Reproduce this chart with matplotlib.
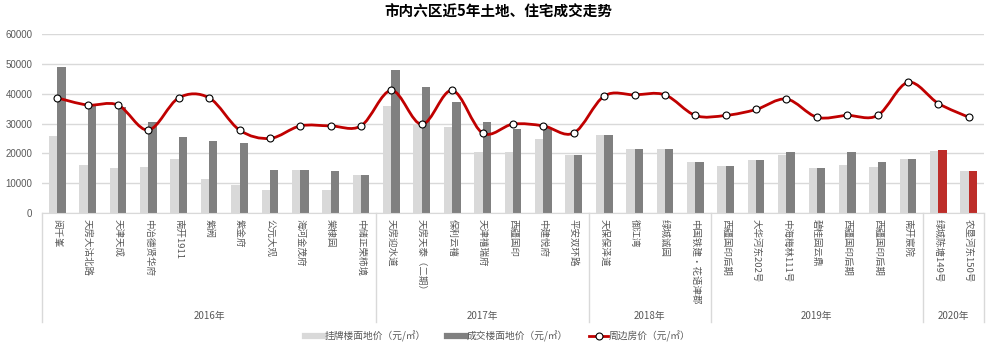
import matplotlib.pyplot as plt
import matplotlib.transforms as mtransforms
from matplotlib.path import Path
from matplotlib.patches import PathPatch
from matplotlib.lines import Line2D
import numpy as np

plt.rcParams['font.family'] = ['Noto Sans CJK SC', 'DejaVu Sans']

# 项目名称
projects = ['阅千峯', '天房大沽北路', '天津天成', '中冶德贤华府', '南开1911', '紫阙', '紫金府',
            '公元大观', '海河金茂府', '棠棣园', '中储正荣柿境',
            '天房迎水道', '天房天泰（二期）', '保利云禧', '天津禧瑞府', '西疆国印', '中建悦府', '平安双环路',
            '天保保泽道', '御江湾', '绿城诚园', '中国铁建·花语津郡',
            '西疆国印后期', '大华河东202号', '中海梅林111号', '碧桂园云鼎', '西疆国印后期', '西疆国印后期', '南开宸院',
            '绿城陈塘149号', '农垦河东150号']
# 年份分组
years = ['2016年', '2017年', '2018年', '2019年', '2020年']
year_counts = [11, 7, 4, 7, 2]
# 挂牌楼面地价
listed = [25800, 16100, 15100, 15400, 18000, 11300, 9300, 7700, 14300, 7600, 12900,
          35800, 30000, 28800, 20300, 20400, 24900, 19400,
          26000, 21500, 21400, 17100,
          15700, 17700, 19400, 15000, 16100, 15400, 18100,
          20700, 14000]
# 成交楼面地价
deal = [48900, 36200, 35500, 30600, 25400, 24100, 23500, 14300, 14300, 14100, 12900,
        47900, 42300, 37100, 30500, 28300, 28400, 19400,
        26000, 21500, 21400, 17100,
        15700, 17700, 20400, 15000, 20600, 17100, 18100,
        21000, 14000]
# 周边房价
around = [38600, 36200, 36200, 27800, 38600, 38600, 27800, 25000, 29200, 29200, 29200,
          41100, 29700, 41100, 26800, 29800, 29200, 26800,
          39200, 39600, 39600, 32700,
          32700, 34700, 38200, 32100, 32700, 32700, 43800,
          36700, 32100]

fig = plt.figure(figsize=(9.88, 3.46), dpi=100)
ax = fig.add_axes([42/988, 1-213/346, 942/988, 179/346])

n = len(projects)
x = np.arange(n)
w = 0.275
deal_colors = ['#808080'] * (n - year_counts[-1]) + ['#bd2d29'] * year_counts[-1]
ax.bar(x - w/2, listed, w, color='#d9d9d9', zorder=2)
ax.bar(x + w/2, deal, w, color=deal_colors, zorder=2)

# 平滑曲线 (Catmull-Rom -> 贝塞尔)
pts = list(zip(x, around))
verts = [pts[0]]
codes = [Path.MOVETO]
for i in range(n - 1):
    p0 = pts[i - 1] if i > 0 else pts[i]
    p1 = pts[i]
    p2 = pts[i + 1]
    p3 = pts[i + 2] if i + 2 < n else pts[i + 1]
    c1 = (p1[0] + (p2[0] - p0[0]) / 6, p1[1] + (p2[1] - p0[1]) / 6)
    c2 = (p2[0] - (p3[0] - p1[0]) / 6, p2[1] - (p3[1] - p1[1]) / 6)
    verts += [c1, c2, p2]
    codes += [Path.CURVE4] * 3
ax.add_patch(PathPatch(Path(verts, codes), fill=False, edgecolor='#c00000', lw=2, zorder=3))
ax.plot(x, around, 'o', color='white', markeredgecolor='black', markeredgewidth=0.8,
        markersize=5, zorder=4)

ax.set_xlim(-0.5, n - 0.5)
ax.set_ylim(0, 60000)
ax.set_yticks(range(0, 60001, 10000))
ax.set_xticks([])
ax.yaxis.grid(True, color='#d9d9d9', lw=1)
ax.set_axisbelow(True)
for s in ['top', 'right', 'left']:
    ax.spines[s].set_visible(False)
ax.spines['bottom'].set_color('#d9d9d9')
ax.tick_params(axis='y', length=0, pad=7, labelsize=7, labelcolor='#595959')
for lab in ax.get_yticklabels():
    lab.set_family(['Liberation Sans', 'DejaVu Sans'])

trans = mtransforms.blended_transform_factory(ax.transData, ax.transAxes)
for i, name in enumerate(projects):
    ax.text(i, -0.034, name, transform=trans, rotation=-90, ha='center', va='top',
            fontsize=6.8, color='#595959')

start = 0
bounds = [-0.5]
for yr, c in zip(years, year_counts):
    ax.text(start + (c - 1) / 2, -0.575, yr, transform=trans, ha='center', va='center',
            fontsize=7, color='#595959')
    start += c
    bounds.append(start - 0.5)
for b in bounds:
    ax.plot([b, b], [0, -0.61], transform=trans, color='#d9d9d9', lw=1, clip_on=False)

fig.text(0.504, 0.965, '市内六区近5年土地、住宅成交走势', ha='center', va='center',
         fontsize=10.5, fontweight='bold')

handles = [Line2D([], [], color='#d9d9d9', lw=4.5),
           Line2D([], [], color='#808080', lw=4.5),
           Line2D([], [], color='#c00000', lw=2, marker='o', markerfacecolor='white',
                  markeredgecolor='black', markersize=5, markeredgewidth=0.8)]
labels = ['挂牌楼面地价（元/㎡）', '成交楼面地价（元/㎡）', '周边房价（元/㎡）']
fig.legend(handles, labels, loc='center', bbox_to_anchor=(0.504, 0.029), ncol=3,
           frameon=False, fontsize=7, handlelength=1.9, handletextpad=0.1,
           columnspacing=2.2, labelcolor='#595959')

plt.savefig('out.png', dpi=100)
